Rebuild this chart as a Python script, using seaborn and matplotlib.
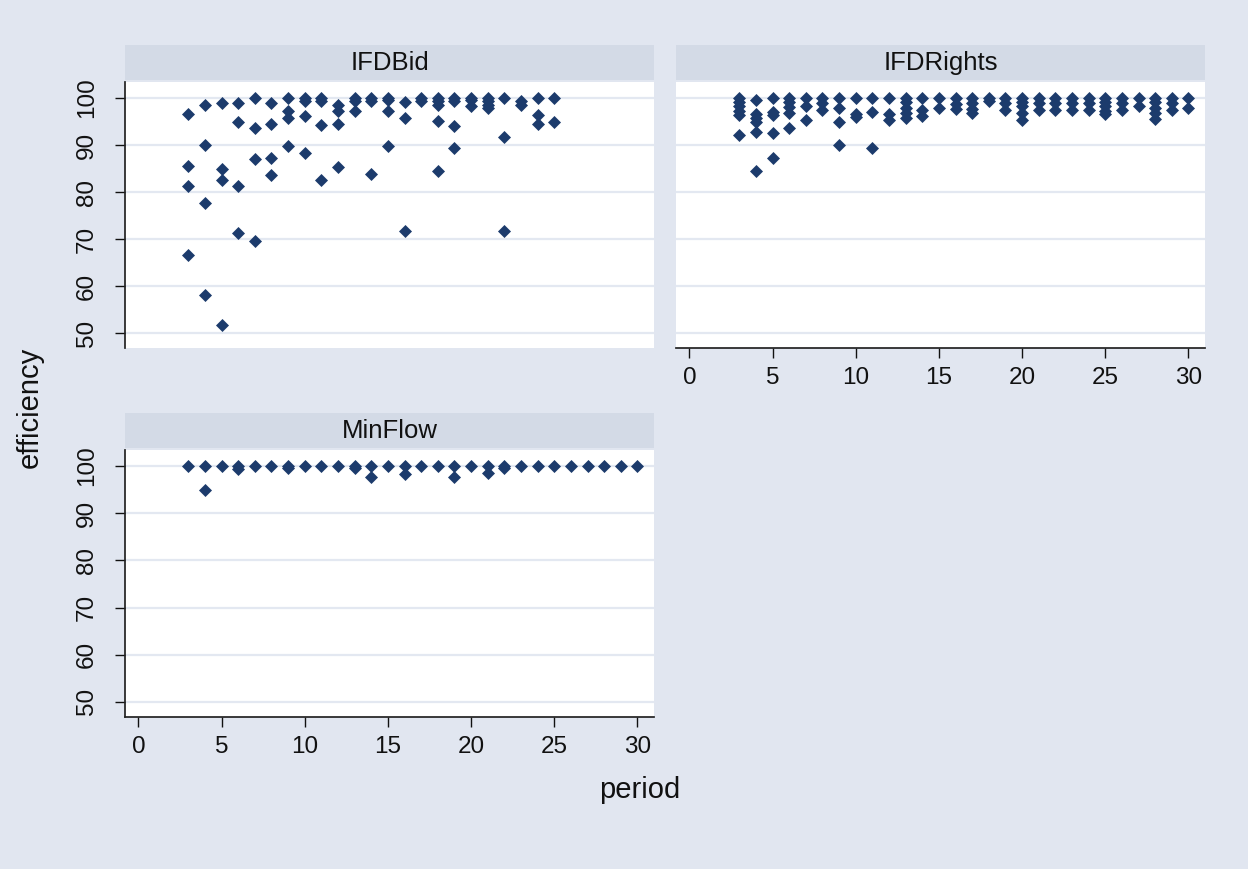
import numpy as np
import pandas as pd
import seaborn as sb
import matplotlib.pyplot as plt
from matplotlib.patches import Rectangle

# efficiency values, one list per period
bid_periods = [3, 4, 5, 6, 7, 8, 9, 10, 11, 12, 13, 14, 15, 16, 17, 18, 19, 20, 21, 22, 23, 24, 25]
bid_eff = [
    [96.5, 85.6, 81.3, 66.5],
    [98.5, 90.1, 77.7, 58.1],
    [98.9, 85.0, 82.5, 51.6],
    [98.9, 94.9, 81.3, 71.3],
    [100.1, 93.7, 87.0, 69.6],
    [98.9, 94.5, 87.3, 83.7],
    [100.0, 97.2, 95.7, 89.8],
    [99.9, 99.3, 96.1, 88.2],
    [99.9, 99.3, 94.2, 82.5],
    [98.5, 97.2, 94.5, 85.3],
    [100.0, 99.3, 97.2],
    [99.9, 99.3, 83.8],
    [100.0, 99.5, 97.2, 89.7],
    [99.2, 95.7, 71.7],
    [99.9, 99.3],
    [100.1, 99.4, 98.6, 95.2, 84.5],
    [100.0, 99.3, 94.1, 89.3],
    [100.1, 99.5, 98.3],
    [100.1, 99.4, 98.6, 97.9],
    [99.9, 91.6, 71.7],
    [99.4, 98.6],
    [100.0, 96.4, 94.4],
    [99.9, 94.8],
]

rights_periods = [3, 4, 5, 6, 7, 8, 9, 10, 11, 12, 13, 14, 15, 16, 17, 18,
                  19, 20, 21, 22, 23, 24, 25, 26, 27, 28, 29, 30]
rights_eff = [
    [100.1, 99.2, 98.3, 97.3, 96.4, 92.1],
    [99.6, 96.7, 95.7, 95.0, 92.8, 84.5],
    [100.0, 97.1, 96.4, 92.5, 87.3],
    [100.1, 99.2, 98.0, 96.9, 93.7],
    [100.1, 98.2, 95.3],
    [100.0, 98.9, 97.5],
    [100.0, 97.8, 94.8, 90.1],
    [100.0, 96.7, 96.0],
    [100.0, 97.1, 89.3],
    [100.0, 96.7, 95.3],
    [100.1, 99.2, 97.9, 96.9, 95.7],
    [100.0, 97.4, 96.2],
    [100.0, 97.9],
    [100.0, 98.7, 97.7],
    [100.0, 98.9, 97.7, 96.9],
    [99.9, 99.3],
    [100.0, 98.9, 97.5],
    [100.0, 99.2, 98.2, 96.9, 95.4],
    [100.0, 98.9, 97.5],
    [100.0, 98.9, 97.5],
    [100.0, 98.9, 97.5],
    [100.0, 98.9, 97.5],
    [100.0, 99.2, 98.2, 97.2, 96.6],
    [100.0, 98.9, 97.5],
    [100.0, 98.3],
    [100.0, 99.2, 97.9, 96.9, 95.6],
    [100.0, 98.9, 97.5],
    [100.0, 97.9],
]

minflow_periods = [3, 4, 5, 6, 7, 8, 9, 10, 11, 12, 13, 14, 15, 16, 17, 18,
                   19, 20, 21, 22, 23, 24, 25, 26, 27, 28, 29, 30]
minflow_eff = [
    [100.0], [100.0, 94.9], [100.0], [100.0, 99.3], [100.0], [100.0],
    [100.0, 99.6], [100.0], [100.0], [100.0], [100.0, 99.5], [100.0, 97.6],
    [100.0], [100.0, 98.4], [100.0], [100.0], [100.0, 97.6], [100.0],
    [100.0, 98.5], [100.0, 99.5], [100.0], [100.0], [100.0], [100.0],
    [100.0], [100.0], [100.0], [100.0],
]

treatments = ["IFDBid", "IFDRights", "MinFlow"]

BG = "#e1e6f0"
STRIP = "#d3dae6"
GRID = "#e3e8f1"
NAVY = "#1c3b6c"


def to_rows(name, periods, effs):
    return [(name, p, e) for p, vals in zip(periods, effs) for e in vals]


rows = (to_rows("IFDBid", bid_periods, bid_eff)
        + to_rows("IFDRights", rights_periods, rights_eff)
        + to_rows("MinFlow", minflow_periods, minflow_eff))
df = pd.DataFrame(rows, columns=["treatment", "period", "efficiency"])

sb.set_theme(style="white")
plt.rcParams["font.family"] = ["Liberation Sans", "DejaVu Sans"]
plt.rcParams["text.color"] = "#111111"
plt.rcParams["xtick.color"] = "#111111"
plt.rcParams["ytick.color"] = "#111111"

g = sb.relplot(data=df, x="period", y="efficiency", col="treatment",
               col_order=treatments, col_wrap=2, marker="D", s=44,
               color=NAVY, linewidth=0, facet_kws={"sharex": True, "sharey": True})
fig = g.figure
fig.set_size_inches(12.48, 8.69)
fig.set_dpi(100)
fig.patch.set_facecolor(BG)

positions = {
    "IFDBid": [0.1002, 0.5995, 0.4239, 0.3061],
    "IFDRights": [0.5417, 0.5995, 0.4239, 0.3061],
    "MinFlow": [0.1002, 0.1749, 0.4239, 0.3072],
}

g.set_titles("")
g.set_axis_labels("", "")
for name, ax in g.axes_dict.items():
    ax.set_position(positions[name])
    ax.set_facecolor("white")
    ax.set_xlim(-0.97, 31.1)
    ax.set_ylim(46.8, 103.4)
    ax.set_xticks([0, 5, 10, 15, 20, 25, 30])
    ax.set_yticks([50, 60, 70, 80, 90, 100])
    ax.grid(axis="y", color=GRID, linewidth=1.6)
    ax.grid(axis="x", visible=False)
    ax.set_axisbelow(True)
    for s in ax.spines.values():
        s.set_visible(False)
    ax.tick_params(axis="both", length=7.5, width=1.0, labelsize=17.5)
    ax.tick_params(axis="x", pad=6.5)
    ax.tick_params(axis="y", pad=12)

    show_x = name in ("IFDRights", "MinFlow")
    show_y = name in ("IFDBid", "MinFlow")
    if show_x:
        ax.spines["bottom"].set_visible(True)
        ax.spines["bottom"].set_color("#222222")
        ax.tick_params(axis="x", bottom=True, labelbottom=True)
    else:
        ax.tick_params(axis="x", bottom=False, labelbottom=False)
    if show_y:
        ax.spines["left"].set_visible(True)
        ax.spines["left"].set_color("#222222")
        ax.tick_params(axis="y", left=True, labelleft=True)
        plt.setp(ax.get_yticklabels(), rotation=90, va="center")
    else:
        ax.tick_params(axis="y", left=False, labelleft=False)

    # strip header like stata's by() titles
    ax.add_patch(Rectangle((0, 1.008), 1, 0.13, transform=ax.transAxes,
                           facecolor=STRIP, edgecolor="none", clip_on=False))
    ax.text(0.5, 1.073, name, transform=ax.transAxes, ha="center", va="center",
            fontsize=18.5)

if "IFDRights" in g.axes_dict:
    g.axes_dict["IFDRights"].set_xlim(-0.8, 31.0)

fig.text(0.024, 0.5316, "efficiency", rotation=90, ha="center", va="center", fontsize=21)
fig.text(0.5128, 0.0909, "period", ha="center", va="center", fontsize=21)

fig.savefig("out.png", dpi=100, facecolor=BG)
